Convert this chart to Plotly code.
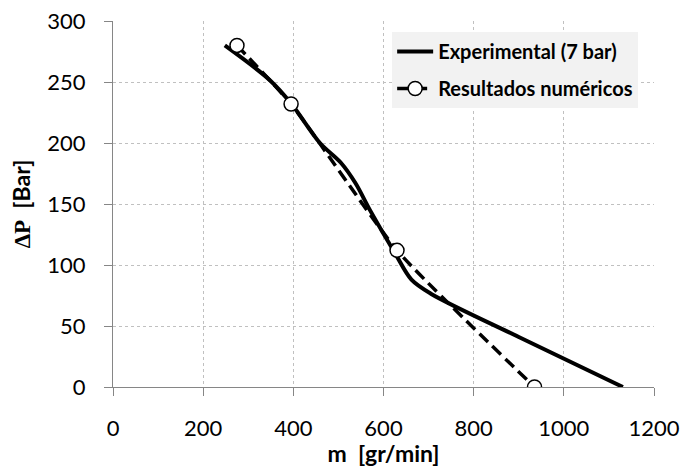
import plotly.graph_objects as go

# Experimental curve (7 bar)
exp_m = [248, 348, 396, 459, 505, 538, 570, 625, 662, 705, 900, 1131]
exp_dp = [280, 251.5, 232, 200, 184, 167, 145, 110, 88, 76.5, 41, 0]

# Numerical results
num_m = [275, 395, 630, 935]
num_dp = [280, 232, 112, 0]

x_ticks = [0, 200, 400, 600, 800, 1000, 1200]
y_ticks = [0, 50, 100, 150, 200, 250, 300]

FONT = "Lato, 'Open Sans', sans-serif"

fig = go.Figure()
fig.add_trace(go.Scatter(
    x=exp_m, y=exp_dp, mode="lines", name="<b>Experimental (7 bar)</b>",
    legendgroup="a",
    line=dict(color="black", width=4, shape="spline", smoothing=0.9),
))
fig.add_trace(go.Scatter(
    x=num_m, y=num_dp, mode="lines+markers", name="<b>Resultados numéricos</b>",
    legendgroup="b",
    line=dict(color="black", width=3.5, dash="12px,6px", shape="spline", smoothing=0.5),
    marker=dict(symbol="circle", size=14, color="white", line=dict(color="black", width=1.5)),
))

axis_common = dict(
    showgrid=True, gridcolor="#c0c0c0", griddash="3px,3px", gridwidth=1,
    showline=True, linecolor="#868686", linewidth=1,
    ticks="outside", ticklen=8, tickcolor="#868686",
    tickfont=dict(family=FONT, size=22, color="black"),
    zeroline=False, automargin=False, ticklabeloverflow="allow",
)

fig.update_layout(
    width=697, height=467,
    margin=dict(l=113, r=43, t=21, b=80),
    paper_bgcolor="white", plot_bgcolor="white",
    font=dict(family=FONT, color="black"),
    showlegend=True,
    legend=dict(
        x=0.516, y=0.97, xanchor="left", yanchor="top",
        bgcolor="#f2f2f2", font=dict(family=FONT, size=20, color="black"),
        borderwidth=0, tracegroupgap=8, itemwidth=36,
    ),
    xaxis=dict(
        **axis_common, range=[0, 1200], tickvals=x_ticks, ticklabelstandoff=14,
        title=dict(text="<b>m  [gr/min]</b>", font=dict(family=FONT, size=23), standoff=6),
    ),
    yaxis=dict(
        **axis_common, range=[0, 300], tickvals=y_ticks, ticklabelstandoff=14,
        title=dict(text="<b><span style='font-family:Liberation Serif'>ΔP</span>  [Bar]</b>",
                   font=dict(family=FONT, size=23), standoff=10),
    ),
)

fig.write_html("out.html", config={"displayModeBar": False},
               post_script="document.body.style.margin='0';")
